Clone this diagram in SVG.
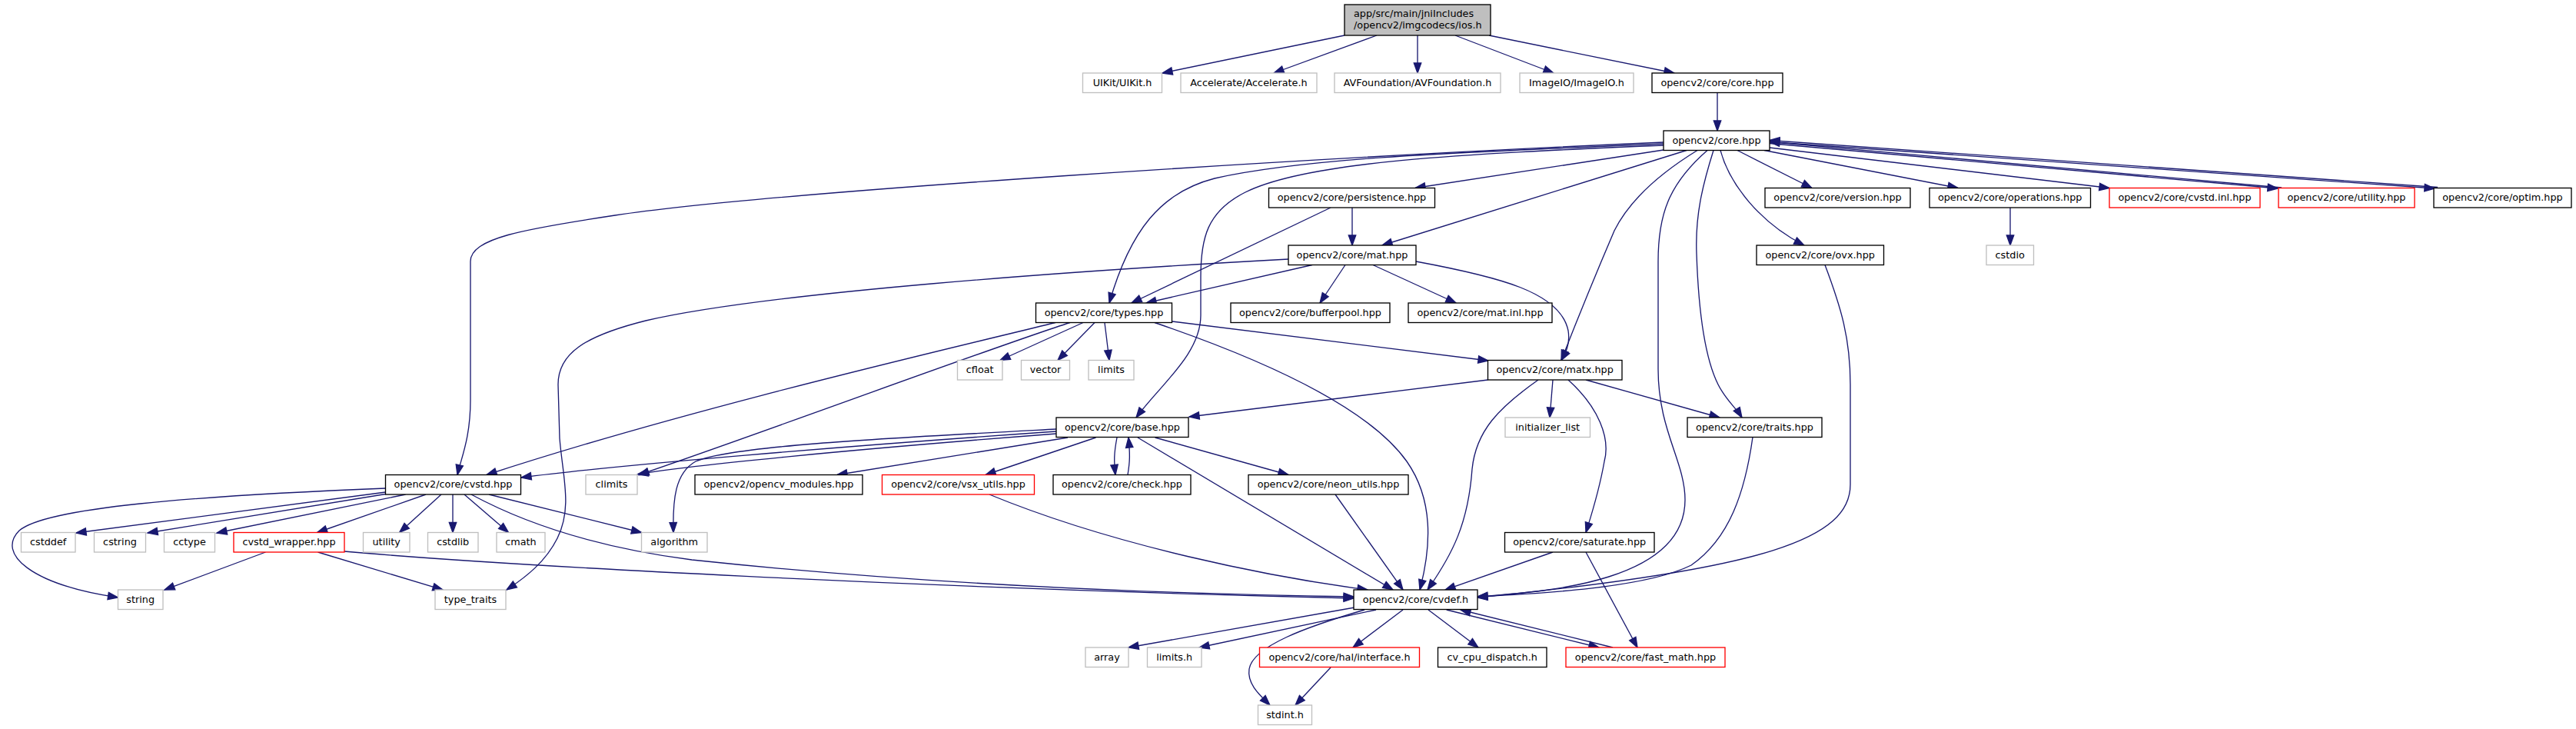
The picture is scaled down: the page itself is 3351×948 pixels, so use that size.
<svg xmlns="http://www.w3.org/2000/svg" width="3351" height="948" viewBox="0 0 3351 948">
<style>
rect{fill:#fff;stroke:#000;stroke-width:1.33}
.g rect{stroke:#bfbfbf}
.r rect{stroke:#ff0000}
.root rect{fill:#bfbfbf}
text{font-family:"DejaVu Sans","Liberation Sans",sans-serif;font-size:12.8px;text-anchor:middle;fill:#000}
.root text{text-anchor:start}
#edges path{fill:none;stroke:#191970;stroke-width:1.33;marker-end:url(#a)}
</style>
<defs>
<marker id="a" markerUnits="userSpaceOnUse" markerWidth="14" markerHeight="10" refX="13" refY="5" orient="auto" style="overflow:visible">
<path d="M0,0.3 L13,5 L0,9.7 z" fill="#191970" stroke="#191970" stroke-width="1.33"/>
</marker>
</defs>
<rect x="0" y="0" width="3351" height="948" style="fill:#fff;stroke:none"/>
<g id="edges">
<path d="M1749,46 L1512,95"/>
<path d="M1791,46 L1657,95"/>
<path d="M1844,46 L1844,95"/>
<path d="M1893,46 L2021,95"/>
<path d="M1937,46 L2178,95"/>
<path d="M2234,120.5 L2234,170"/>
<path d="M2164,185 C1700,205 1000,250 800,280 C680,298 612,310 612,340 L612,520 C612,570 600,595 595,617.5"/>
<path d="M2164,187 C1900,198 1700,205 1580,232 C1510,250 1470,300 1443,394"/>
<path d="M2164,189 C1900,200 1700,210 1620,250 C1570,275 1562,310 1562,360 L1562,410 C1562,460 1510,500 1478,543"/>
<path d="M2164,195 L1841,244.5"/>
<path d="M2194,195.5 L1798,319"/>
<path d="M2208,195.5 C2160,225 2120,260 2100,300 C2070,370 2050,420 2031,468.5"/>
<path d="M2221,195.5 C2170,240 2157,280 2157,340 L2157,480 C2157,560 2192,600 2192,650 C2192,760 2000,770 1922,776"/>
<path d="M2229,195.5 C2215,240 2205,280 2207,330 C2210,420 2220,470 2235,500 C2245,520 2258,530 2266,543"/>
<path d="M2238,195.5 C2250,240 2290,290 2347,319"/>
<path d="M2260,195.5 L2357,244.5"/>
<path d="M2295,195.5 L2547,244.5"/>
<path d="M2302,192 L2744,244.5"/>
<path d="M2302,186.5 L2963,245"/>
<path d="M2968,244 L2302,184.5"/>
<path d="M2302,184.5 L3167,245"/>
<path d="M3171,243.5 L2302,182.5"/>
<path d="M2615,270 L2615,319"/>
<path d="M1731,270 L1472,394"/>
<path d="M1759,270 L1759,319"/>
<path d="M1707,344.5 L1491,394"/>
<path d="M1750,344.5 L1717,394"/>
<path d="M1786,344.5 L1894,394"/>
<path d="M1842,340 C1950,360 2030,380 2040,430 C2043,448 2036,460 2031,468.5"/>
<path d="M1676,337 C1400,352 1000,380 840,417 C760,437 726,460 726,500 L728,570 C732,620 745,660 725,700 C710,730 685,750 659,767"/>
<path d="M1373,419.5 C1250,450 900,530 633,617.5"/>
<path d="M1392,419.5 C1290,452 1000,560 831,617.5"/>
<path d="M1409,419.5 L1301,468.5"/>
<path d="M1424,419.5 L1376,468.5"/>
<path d="M1437,419.5 L1443,468.5"/>
<path d="M1525,418 L1936,469"/>
<path d="M1502,419.5 C1650,470 1780,530 1830,600 C1865,650 1862,710 1847,767"/>
<path d="M1935.5,494 L1547,542"/>
<path d="M2020,494 L2016,543"/>
<path d="M2063,494 L2237,543"/>
<path d="M2040,494 C2080,530 2095,570 2087,600 C2080,640 2070,670 2063,692.5"/>
<path d="M2001,494 C1950,530 1920,560 1915,610 C1910,680 1890,720 1857,767"/>
<path d="M2280,568.5 C2270,640 2250,700 2200,735 C2140,765 2000,772 1922,776"/>
<path d="M2374,344.5 C2395,400 2407,440 2407,500 L2407,630 C2407,700 2300,740 1922,777"/>
<path d="M1374,561 C1100,580 800,605 678,621"/>
<path d="M1374,564 C1100,585 900,605 830,616.5"/>
<path d="M1374,558 C1150,570 950,580 905,600 C878,615 875,650 876,692.5"/>
<path d="M1389,569 L1089,617.5"/>
<path d="M1425.5,569 L1282,617.5"/>
<path d="M1453,569 C1449,590 1449,600 1451,617.5"/>
<path d="M1467,617.5 C1470,600 1470,590 1468,569"/>
<path d="M1502.6,569 L1676,617.5"/>
<path d="M1480,569 L1812,767"/>
<path d="M1287,643 C1450,710 1650,750 1779,767"/>
<path d="M1737,643 L1825,767"/>
<path d="M501.5,635 C250,645 60,660 25,690 C-5,720 40,760 153.5,777"/>
<path d="M501.5,640 C350,660 200,680 99,693"/>
<path d="M501.5,642.5 L192,693"/>
<path d="M527.6,643 L282,693"/>
<path d="M554,643 L412.5,692.5"/>
<path d="M574,643 L519.6,692.5"/>
<path d="M589,643 L589,692.5"/>
<path d="M604,643 L661.5,692.5"/>
<path d="M636,643 L834.5,692.5"/>
<path d="M613,643 C700,690 800,715 900,728 C1200,760 1500,772 1761,776"/>
<path d="M345.5,718 L214,767"/>
<path d="M413.5,718 L576,767"/>
<path d="M448,717 C650,735 1200,765 1761,778"/>
<path d="M1762,790 L1468,842"/>
<path d="M1790,793 L1560,842"/>
<path d="M1775,793 C1700,815 1630,840 1625,870 C1622,890 1640,905 1652,917"/>
<path d="M1825,793 L1760,842"/>
<path d="M1858,793 L1923,842"/>
<path d="M1881.7,793 L2080,842"/>
<path d="M2098,842 L1900,793"/>
<path d="M2063,718 L2130,842"/>
<path d="M2020,718 L1880,767"/>
<path d="M1731,868 L1685,917"/>
</g>
<g id="root" class="root"><rect x="1749" y="6" width="190" height="40"/><text x="1761" y="22">app/src/main/jniIncludes</text><text x="1761" y="37">/opencv2/imgcodecs/ios.h</text></g>
<g id="uikit" class="g"><rect x="1408.5" y="95" width="103" height="25.5"/><text x="1460" y="111.7">UIKit/UIKit.h</text></g>
<g id="accelerate" class="g"><rect x="1536" y="95" width="177" height="25.5"/><text x="1624.5" y="111.7">Accelerate/Accelerate.h</text></g>
<g id="avfoundation" class="g"><rect x="1736" y="95" width="216" height="25.5"/><text x="1844" y="111.7">AVFoundation/AVFoundation.h</text></g>
<g id="imageio" class="g"><rect x="1977" y="95" width="148" height="25.5"/><text x="2051" y="111.7">ImageIO/ImageIO.h</text></g>
<g id="corecore"><rect x="2149" y="95" width="170" height="25.5"/><text x="2234" y="111.7">opencv2/core/core.hpp</text></g>
<g id="core"><rect x="2164" y="170" width="138" height="25.5"/><text x="2233" y="186.7">opencv2/core.hpp</text></g>
<g id="persistence"><rect x="1650.5" y="244.5" width="216" height="25.5"/><text x="1758.5" y="261.2">opencv2/core/persistence.hpp</text></g>
<g id="version"><rect x="2296" y="244.5" width="189" height="25.5"/><text x="2390.5" y="261.2">opencv2/core/version.hpp</text></g>
<g id="operations"><rect x="2510" y="244.5" width="209.5" height="25.5"/><text x="2614.7" y="261.2">opencv2/core/operations.hpp</text></g>
<g id="cvstdinl" class="r"><rect x="2744" y="244.5" width="196" height="25.5"/><text x="2842" y="261.2">opencv2/core/cvstd.inl.hpp</text></g>
<g id="utilityhpp" class="r"><rect x="2964" y="244.5" width="177" height="25.5"/><text x="3052.5" y="261.2">opencv2/core/utility.hpp</text></g>
<g id="optim"><rect x="3166" y="244.5" width="179" height="25.5"/><text x="3255.5" y="261.2">opencv2/core/optim.hpp</text></g>
<g id="mat"><rect x="1676" y="319" width="166" height="25.5"/><text x="1759" y="335.7">opencv2/core/mat.hpp</text></g>
<g id="ovx"><rect x="2285" y="319" width="165.5" height="25.5"/><text x="2367.7" y="335.7">opencv2/core/ovx.hpp</text></g>
<g id="cstdio" class="g"><rect x="2584" y="319" width="61.5" height="25.5"/><text x="2614.7" y="335.7">cstdio</text></g>
<g id="types"><rect x="1347.5" y="394" width="177" height="25.5"/><text x="1436" y="410.7">opencv2/core/types.hpp</text></g>
<g id="bufferpool"><rect x="1601" y="394" width="207" height="25.5"/><text x="1704.5" y="410.7">opencv2/core/bufferpool.hpp</text></g>
<g id="matinl"><rect x="1832" y="394" width="187" height="25.5"/><text x="1925.5" y="410.7">opencv2/core/mat.inl.hpp</text></g>
<g id="cfloat" class="g"><rect x="1245.5" y="468.5" width="58.5" height="25.5"/><text x="1274.7" y="485.2">cfloat</text></g>
<g id="vector" class="g"><rect x="1328.5" y="468.5" width="63" height="25.5"/><text x="1360" y="485.2">vector</text></g>
<g id="limits" class="g"><rect x="1416" y="468.5" width="59" height="25.5"/><text x="1445.5" y="485.2">limits</text></g>
<g id="matx"><rect x="1935.5" y="468.5" width="174.5" height="25.5"/><text x="2022.7" y="485.2">opencv2/core/matx.hpp</text></g>
<g id="base"><rect x="1374" y="543" width="172" height="25.5"/><text x="1460" y="559.7">opencv2/core/base.hpp</text></g>
<g id="initlist" class="g"><rect x="1958" y="543" width="110.5" height="25.5"/><text x="2013.2" y="559.7">initializer_list</text></g>
<g id="traits"><rect x="2195" y="543" width="175" height="25.5"/><text x="2282.5" y="559.7">opencv2/core/traits.hpp</text></g>
<g id="cvstd"><rect x="501.5" y="617.5" width="176" height="25.5"/><text x="589.5" y="634.2">opencv2/core/cvstd.hpp</text></g>
<g id="climits" class="g"><rect x="762" y="617.5" width="67" height="25.5"/><text x="795.5" y="634.2">climits</text></g>
<g id="opencvmodules"><rect x="904" y="617.5" width="218" height="25.5"/><text x="1013" y="634.2">opencv2/opencv_modules.hpp</text></g>
<g id="vsx" class="r"><rect x="1147.5" y="617.5" width="198" height="25.5"/><text x="1246.5" y="634.2">opencv2/core/vsx_utils.hpp</text></g>
<g id="check"><rect x="1370" y="617.5" width="179" height="25.5"/><text x="1459.5" y="634.2">opencv2/core/check.hpp</text></g>
<g id="neon"><rect x="1624" y="617.5" width="208" height="25.5"/><text x="1728" y="634.2">opencv2/core/neon_utils.hpp</text></g>
<g id="cstddef" class="g"><rect x="27.5" y="692.5" width="70.5" height="25.5"/><text x="62.7" y="709.2">cstddef</text></g>
<g id="cstring" class="g"><rect x="122.5" y="692.5" width="67" height="25.5"/><text x="156" y="709.2">cstring</text></g>
<g id="cctype" class="g"><rect x="213.5" y="692.5" width="66" height="25.5"/><text x="246.5" y="709.2">cctype</text></g>
<g id="cvstdwrapper" class="r"><rect x="304" y="692.5" width="144" height="25.5"/><text x="376" y="709.2">cvstd_wrapper.hpp</text></g>
<g id="utility" class="g"><rect x="472.5" y="692.5" width="60.5" height="25.5"/><text x="502.7" y="709.2">utility</text></g>
<g id="cstdlib" class="g"><rect x="556.5" y="692.5" width="65.5" height="25.5"/><text x="589.2" y="709.2">cstdlib</text></g>
<g id="cmath" class="g"><rect x="646" y="692.5" width="63" height="25.5"/><text x="677.5" y="709.2">cmath</text></g>
<g id="algorithm" class="g"><rect x="834.5" y="692.5" width="85.5" height="25.5"/><text x="877.2" y="709.2">algorithm</text></g>
<g id="saturate"><rect x="1957.5" y="692.5" width="194.5" height="25.5"/><text x="2054.7" y="709.2">opencv2/core/saturate.hpp</text></g>
<g id="string" class="g"><rect x="153.5" y="767" width="58.5" height="25.5"/><text x="182.7" y="783.7">string</text></g>
<g id="typetraits" class="g"><rect x="566" y="767" width="92" height="25.5"/><text x="612" y="783.7">type_traits</text></g>
<g id="cvdef"><rect x="1761" y="767" width="161" height="25.5"/><text x="1841.5" y="783.7">opencv2/core/cvdef.h</text></g>
<g id="array" class="g"><rect x="1412" y="842" width="56" height="25.5"/><text x="1440" y="858.7">array</text></g>
<g id="limitsh" class="g"><rect x="1492.5" y="842" width="70.5" height="25.5"/><text x="1527.7" y="858.7">limits.h</text></g>
<g id="halinterface" class="r"><rect x="1638.5" y="842" width="208" height="25.5"/><text x="1742.5" y="858.7">opencv2/core/hal/interface.h</text></g>
<g id="cvcpu"><rect x="1870.5" y="842" width="141.5" height="25.5"/><text x="1941.2" y="858.7">cv_cpu_dispatch.h</text></g>
<g id="fastmath" class="r"><rect x="2037" y="842" width="207" height="25.5"/><text x="2140.5" y="858.7">opencv2/core/fast_math.hpp</text></g>
<g id="stdint" class="g"><rect x="1636.5" y="917" width="70" height="25.5"/><text x="1671.5" y="933.7">stdint.h</text></g>
</svg>
